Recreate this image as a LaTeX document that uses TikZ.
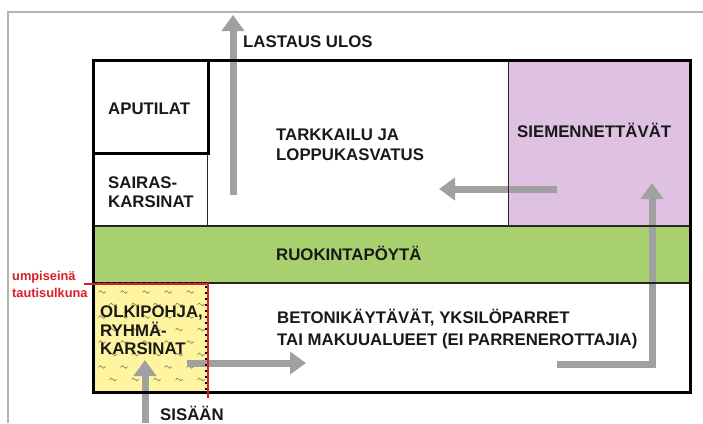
\documentclass[tikz,border=0pt]{standalone}
\usepackage{fontspec}
\setmainfont{Liberation Sans}[BoldFont={Liberation Sans Bold}]
\usetikzlibrary{arrows.meta}
\definecolor{grn}{RGB}{169,208,110}
\definecolor{purp}{RGB}{223,193,226}
\definecolor{yel}{RGB}{255,245,160}
\definecolor{arr}{RGB}{160,160,160}
\definecolor{redl}{RGB}{220,30,40}
\definecolor{tild}{RGB}{140,135,95}
\definecolor{txt}{RGB}{25,25,25}
\begin{document}
\begin{tikzpicture}[x=1pt,y=-1pt,
 lbl/.style={font=\fontsize{16.8}{20}\selectfont\bfseries, text=txt, anchor=base west, inner sep=0},
 redlbl/.style={font=\fontsize{12.8}{16}\selectfont\bfseries, text=redl, anchor=base west, inner sep=0},
 flow/.style={draw=arr, line width=7pt, -{Triangle[width=22pt,length=16pt]}},
 room/.style={draw=black, line width=3pt},
 wall/.style={draw=black!85, line width=1pt}]
\useasboundingbox (0,0) rectangle (703,423);
\fill[white] (0,0) rectangle (703,423);
\draw[arr!80, line width=1.5pt] (8,423) -- (8,12) -- (703,12);

% area fills
\fill[purp] (508,60) rectangle (690,226);
\fill[grn] (93,226) rectangle (690,283);
\fill[yel] (93,283) rectangle (208,392);

% straw pattern
\foreach \r in {0,...,7} {
  \foreach \c in {0,...,4} {
    \pgfmathsetmacro\xx{102+\c*22+mod(\r,2)*11}
    \pgfmathsetmacro\yy{292+\r*12.5}
    \draw[tild, line width=0.7pt] ({\xx-3.5},{\yy+0.5}) sin ({\xx-1.75},{\yy-1.3}) cos (\xx,\yy) sin ({\xx+1.75},{\yy+1.3}) cos ({\xx+3.5},{\yy-0.5});
  }
}

% flow coordinates
\coordinate (outS) at (233,195);
\coordinate (outE) at (233,15);
\coordinate (midS) at (557,189);
\coordinate (midE) at (439,189);
\coordinate (lS) at (557,364);
\coordinate (lE) at (652,183);
\coordinate (inS) at (145,423);
\coordinate (inE) at (145,360);
\coordinate (yS) at (187,363);
\coordinate (yE) at (306,363);

\draw[flow] (outS) -- (outE);
\draw[flow] (midS) -- (midE);
\draw[flow] (lS) -| (lE);
\draw[flow] (inS) -- (inE);
\draw[flow] (yS) -- (yE);

% walls
\draw[wall] (207,153) -- (207,226);
\draw[wall] (508,60) -- (508,226);
\draw[wall, line width=1.3pt] (93,226) -- (690,226);
\draw[wall, line width=1.3pt] (93,283) -- (690,283);
\draw[room] (93,60) rectangle (208,153);
\draw[room] (93,60) rectangle (690,392);
\draw[black, line width=1.8pt, dash pattern=on 2pt off 4pt] (95,283) -- (206,283) -- (206,390);
\draw[redl, line width=1.2pt] (84,284) -- (208,284) -- (208,398);

% labels
\node[lbl] (lastaus) at (243,47) {LASTAUS ULOS};
\node[lbl] (aputilat) at (108,114) {APUTILAT};
\node[lbl] (sairas1) at (108,188) {SAIRAS-};
\node[lbl] (sairas2) at (108,207) {KARSINAT};
\node[lbl] (tark1) at (276,140) {TARKKAILU JA};
\node[lbl] (tark2) at (276,160) {LOPPUKASVATUS};
\node[lbl] (siem) at (517,137) {SIEMENNETTÄVÄT};
\node[lbl] (ruok) at (276,260) {RUOKINTAPÖYTÄ};
\node[lbl] (bet1) at (277,323) {BETONIKÄYTÄVÄT, YKSILÖPARRET};
\node[lbl] (bet2) at (277,345) {TAI MAKUUALUEET (EI PARRENEROTTAJIA)};
\node[lbl] (olki1) at (100,317) {OLKIPOHJA,};
\node[lbl] (olki2) at (100,336) {RYHMÄ-};
\node[lbl] (olki3) at (100,354) {KARSINAT};
\node[lbl] (sisaan) at (160,420) {SISÄÄN};
\node[redlbl] (ump1) at (12,280) {umpiseinä};
\node[redlbl] (ump2) at (12,297) {tautisulkuna};
\end{tikzpicture}
\end{document}
